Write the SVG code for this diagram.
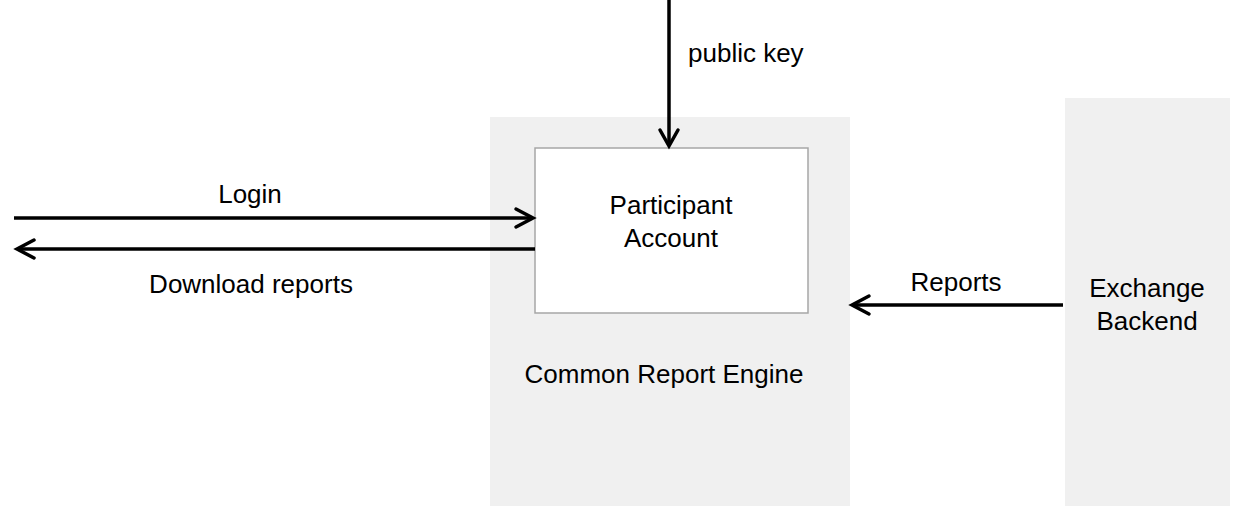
<svg xmlns="http://www.w3.org/2000/svg" width="1234" height="506" viewBox="0 0 1234 506">
<style>
.bg{fill:#f0f0f0;stroke:none}
.box{fill:#ffffff;stroke:#a6a6a6;stroke-width:1.5}
.t{font-family:"Liberation Sans",Arial,sans-serif;font-size:26px;fill:#000}
.m{text-anchor:middle}
.c{fill:none;stroke:#000;stroke-width:3.5}
.h{fill:none;stroke:#000;stroke-width:3.5;stroke-linecap:round;stroke-linejoin:miter}
</style>
<rect width="1234" height="506" fill="#fff"/>
<g id="engine">
<rect class="bg" x="490" y="117" width="360" height="389"/>
<text class="t m" x="664" y="383">Common Report Engine</text>
</g>
<g id="exchange">
<rect class="bg" x="1065" y="98" width="165" height="408"/>
<text class="t m" x="1147" y="297">Exchange</text>
<text class="t m" x="1147" y="330">Backend</text>
</g>
<g id="account">
<rect class="box" x="535" y="148" width="273" height="165"/>
<text class="t m" x="671" y="214">Participant</text>
<text class="t m" x="671" y="247">Account</text>
</g>
<g id="connectors">
<line class="c" x1="669" y1="0" x2="669" y2="146"/>
<polyline class="h" points="660,130 669,146 678,130"/>
<text class="t" x="688" y="62">public key</text>
<line class="c" x1="14" y1="218" x2="533" y2="218"/>
<polyline class="h" points="516,209 533,218 516,227"/>
<text class="t m" x="250" y="203">Login</text>
<line class="c" x1="535" y1="249" x2="17" y2="249"/>
<polyline class="h" points="34,240 17,249 34,258"/>
<text class="t m" x="251" y="293">Download reports</text>
<line class="c" x1="1063" y1="305" x2="852" y2="305"/>
<polyline class="h" points="869,296 852,305 869,314"/>
<text class="t m" x="956" y="291">Reports</text>
</g>
</svg>
